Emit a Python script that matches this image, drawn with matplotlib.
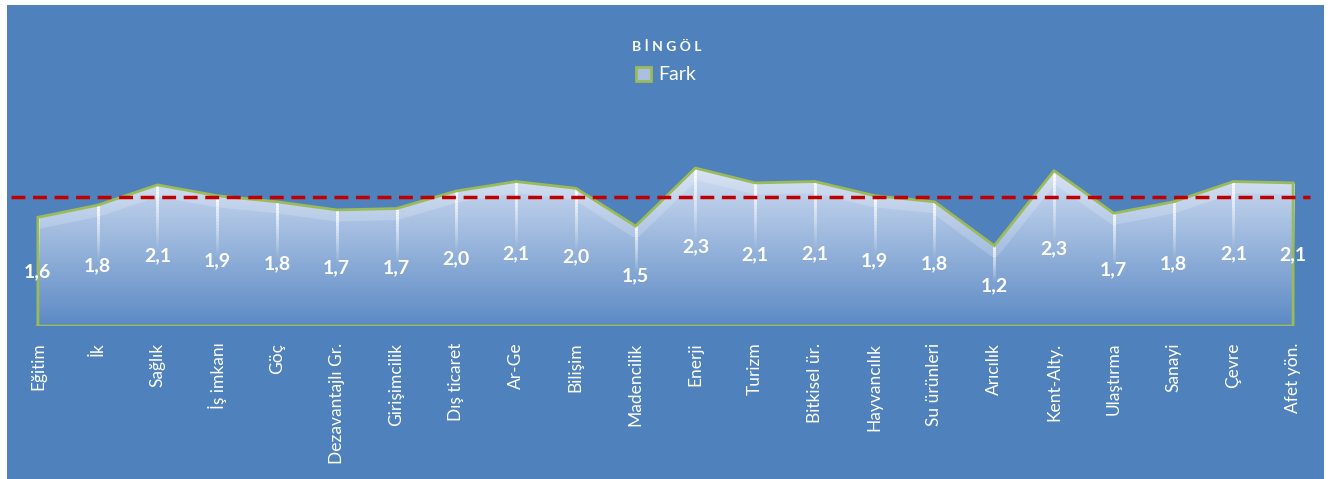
import numpy as np
import matplotlib
matplotlib.use("Agg")
import matplotlib.pyplot as plt
from matplotlib.patches import Rectangle, Patch, Polygon
from matplotlib.collections import LineCollection
import matplotlib.transforms as mtransforms

# data
categories = ["Eğitim", "İk", "Sağlık", "İş imkanı", "Göç", "Dezavantajlı Gr.",
              "Girişimcilik", "Dış ticaret", "Ar-Ge", "Bilişim", "Madencilik",
              "Enerji", "Turizm", "Bitkisel ür.", "Hayvancılık", "Su ürünleri",
              "Arıcılık", "Kent-Alty.", "Ulaştırma", "Sanayi", "Çevre", "Afet yön."]
fark = [1.61, 1.79, 2.09, 1.93, 1.84, 1.72, 1.74, 2.00, 2.14, 2.04, 1.48,
        2.34, 2.12, 2.14, 1.93, 1.84, 1.19, 2.30, 1.67, 1.84, 2.14, 2.12]
value_labels = ["1,6", "1,8", "2,1", "1,9", "1,8", "1,7", "1,7", "2,0", "2,1", "2,0", "1,5",
                "2,3", "2,1", "2,1", "1,9", "1,8", "1,2", "2,3", "1,7", "1,8", "2,1", "2,1"]
ortalama = np.mean(fark)
title = "BİNGÖL"
series_name = "Fark"

BG = "#4F81BD"
GREEN = "#9BBB59"
FONT = ["Lato", "DejaVu Sans"]

W, H = 1333, 479
fig = plt.figure(figsize=(W / 100, H / 100), dpi=100)
fig.patch.set_facecolor("white")
fig.patches.append(Rectangle((7 / W, 0), 1317 / W, 474 / H, transform=fig.transFigure,
                             facecolor=BG, edgecolor="none", zorder=-10))

# plot area in pixels: x 8..1323, baseline at y=326, 67.5 px per unit
ymax = 3.0
bottom_px = 326
top_px = bottom_px - ymax * 67.5
ax = fig.add_axes([8 / W, (H - bottom_px) / H, 1315 / W, (bottom_px - top_px) / H])
ax.set_facecolor("none")
for s in ax.spines.values():
    s.set_visible(False)

x = np.arange(len(categories))
y = np.array(fark)

# area with vertical gradient
verts = [(x[0], 0)] + list(zip(x, y)) + [(x[-1], 0)]
area = Polygon(verts, closed=True, facecolor="none", edgecolor="none")
ax.add_patch(area)
grad = np.linspace(0, 1, 256).reshape(-1, 1)
top_c = np.array([0.82, 0.87, 0.95])
bot_c = np.array([0.36, 0.54, 0.77])
img = top_c[None, None, :] * (1 - grad[:, :, None]) + bot_c[None, None, :] * grad[:, :, None]
im = ax.imshow(img, extent=[-0.5, len(categories) - 0.5, 0, y.max()], aspect="auto",
               origin="upper", zorder=1)
im.set_clip_path(area)
ax.set_xlim(-0.5, len(categories) - 0.5)
ax.set_ylim(0, ymax)

# soft light band just below the top edge
off = mtransforms.offset_copy(ax.transData, fig=fig, x=0, y=-6, units="dots")
band, = ax.plot(x, y, color="white", lw=8, alpha=0.18, transform=off, zorder=2,
                solid_capstyle="butt")
band.set_clip_path(area)

# drop lines fading downward
segs, cols = [], []
for xi, yi in zip(x, y):
    n = 20
    ys = np.linspace(yi, yi * 0.55, n + 1)
    for k in range(n):
        segs.append([(xi, ys[k]), (xi, ys[k + 1])])
        cols.append((1, 1, 1, 0.95 * (1 - k / n)))
ax.add_collection(LineCollection(segs, colors=cols, linewidths=2, zorder=3))

# outline
ox = np.concatenate([[x[0]], x, [x[-1], x[0]]])
oy = np.concatenate([[0], y, [0, 0]])
ax.plot(ox, oy, color=GREEN, lw=2, zorder=4, solid_joinstyle="miter")

# mean line
ax.hlines(ortalama, -0.45, len(categories) - 0.72, colors="#C00000", linestyles=(0, (4, 2.2)),
          lw=2.5, zorder=5)

for xi, yi, lab in zip(x, y, value_labels):
    ax.text(xi, yi / 2, lab, ha="center", va="center", color="white",
            fontsize=14, fontweight="bold", family=FONT, zorder=6)

ax.set_xticks(x)
ax.set_xticklabels(categories, rotation=90, color="white", fontsize=12.5, family=FONT,
                   va="top", ha="center")
ax.tick_params(axis="x", length=0, pad=12)
ax.set_yticks([])

fig.text(0.5, 1 - 47 / H, " ".join(title), ha="center", va="center", color="white",
         fontsize=10, fontweight="bold", family=FONT)
handle = Patch(facecolor="#A9C0DF", edgecolor=GREEN, linewidth=2)
leg = fig.legend([handle], [series_name], loc="center", bbox_to_anchor=(0.5, 1 - 75 / H),
                 frameon=False, prop={"family": FONT, "size": 14}, labelcolor="white",
                 handlelength=0.75, handleheight=0.75, handletextpad=0.4)

fig.savefig("out.png", dpi=100, facecolor=fig.get_facecolor())
